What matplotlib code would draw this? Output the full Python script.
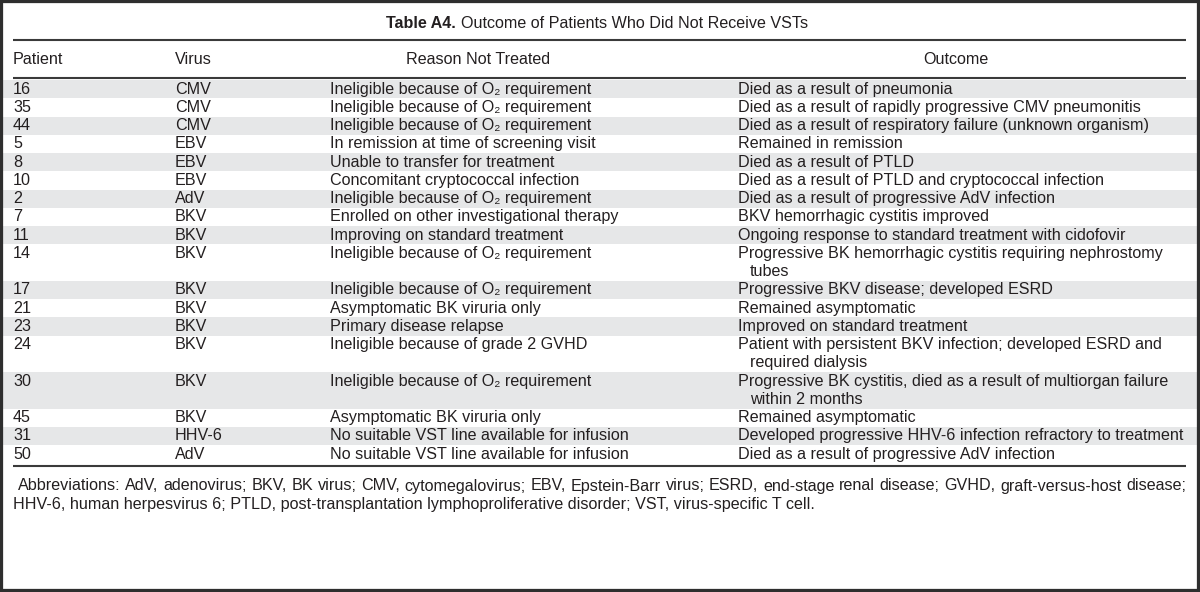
import matplotlib

matplotlib.use("Agg")
import matplotlib.pyplot as plt
from matplotlib.patches import Rectangle

plt.rcParams["font.family"] = ["Liberation Sans", "DejaVu Sans"]

TITLE_BOLD = "Table A4."
TITLE_REST = "Outcome of Patients Who Did Not Receive VSTs"
HEADERS = ["Patient", "Virus", "Reason Not Treated", "Outcome"]

O2 = "Ineligible because of O\u2082 requirement"
patients = ["16", "35", "44", "5", "8", "10", "2", "7", "11", "14",
            "17", "21", "23", "24", "30", "45", "31", "50"]
viruses = ["CMV", "CMV", "CMV", "EBV", "EBV", "EBV", "AdV", "BKV", "BKV", "BKV",
           "BKV", "BKV", "BKV", "BKV", "BKV", "BKV", "HHV-6", "AdV"]
reasons = [O2, O2, O2,
           "In remission at time of screening visit",
           "Unable to transfer for treatment",
           "Concomitant cryptococcal infection",
           O2,
           "Enrolled on other investigational therapy",
           "Improving on standard treatment",
           O2, O2,
           "Asymptomatic BK viruria only",
           "Primary disease relapse",
           "Ineligible because of grade 2 GVHD",
           O2,
           "Asymptomatic BK viruria only",
           "No suitable VST line available for infusion",
           "No suitable VST line available for infusion"]
outcomes = [
    ["Died as a result of pneumonia"],
    ["Died as a result of rapidly progressive CMV pneumonitis"],
    ["Died as a result of respiratory failure (unknown organism)"],
    ["Remained in remission"],
    ["Died as a result of PTLD"],
    ["Died as a result of PTLD and cryptococcal infection"],
    ["Died as a result of progressive AdV infection"],
    ["BKV hemorrhagic cystitis improved"],
    ["Ongoing response to standard treatment with cidofovir"],
    ["Progressive BK hemorrhagic cystitis requiring nephrostomy", "tubes"],
    ["Progressive BKV disease; developed ESRD"],
    ["Remained asymptomatic"],
    ["Improved on standard treatment"],
    ["Patient with persistent BKV infection; developed ESRD and",
     "required dialysis"],
    ["Progressive BK cystitis, died as a result of multiorgan failure",
     "within 2 months"],
    ["Remained asymptomatic"],
    ["Developed progressive HHV-6 infection refractory to treatment"],
    ["Died as a result of progressive AdV infection"],
]
FOOTNOTE = [
    "Abbreviations: AdV, adenovirus; BKV, BK virus; CMV, cytomegalovirus; "
    "EBV, Epstein-Barr virus; ESRD, end-stage renal disease; GVHD, "
    "graft-versus-host disease;",
    "HHV-6, human herpesvirus 6; PTLD, post-transplantation "
    "lymphoproliferative disorder; VST, virus-specific T cell.",
]

INK = "#231f20"
SHADE = "#e6e7e8"
RULE = "#3a3a3a"
FS = 11.6

fig = plt.figure(figsize=(12, 5.92), dpi=100)
ax = fig.add_axes([0, 0, 1, 1])
ax.set_xlim(0, 1200)
ax.set_ylim(592, 0)
ax.axis("off")
renderer = fig.canvas.get_renderer()


def width(txt):
    # axes units are pixels, so the extent width is directly usable
    return txt.get_window_extent(renderer=renderer).width


left, right = 13, 1186
col_x = [13, 175, 330, 738]
indent = 12

# title: bold label + regular text, centred as one line
tb = ax.text(0, 24, TITLE_BOLD, fontsize=FS, fontweight="bold", color=INK,
             va="center")
tr = ax.text(0, 24, TITLE_REST, fontsize=FS, color=INK, va="center")
gap = 5
total = width(tb) + gap + width(tr)
x0 = 597 - total / 2
tb.set_x(x0)
tr.set_x(x0 + width(tb) + gap)

ax.hlines(40, left, right, color=RULE, lw=1.5)
ax.text(col_x[0], 59, HEADERS[0], fontsize=FS, color=INK, va="center")
ax.text(col_x[1], 59, HEADERS[1], fontsize=FS, color=INK, va="center")
ax.text(478, 59, HEADERS[2], fontsize=FS, color=INK, va="center", ha="center")
ax.text(956, 59, HEADERS[3], fontsize=FS, color=INK, va="center", ha="center")
ax.hlines(78, left, right, color=RULE, lw=1.5)

lh = 18.25
y = 80.0
for i, (p, v, r, o) in enumerate(zip(patients, viruses, reasons, outcomes)):
    h = lh * len(o)
    if i % 2 == 0:
        ax.add_patch(Rectangle((3, y), 1194, h, color=SHADE, lw=0, zorder=0))
    yc = y + lh / 2
    ax.text(col_x[0], yc, p, fontsize=FS, color=INK, va="center")
    ax.text(col_x[1], yc, v, fontsize=FS, color=INK, va="center")
    ax.text(col_x[2], yc, r, fontsize=FS, color=INK, va="center")
    for k, line in enumerate(o):
        ax.text(col_x[3] + (indent if k else 0), yc + k * lh, line,
                fontsize=FS, color=INK, va="center")
    y += h

ax.hlines(y + 3, left, right, color=RULE, lw=1.5)

# footnote, first line justified to the rule width
words = FOOTNOTE[0].split(" ")
arts = [ax.text(0, 486, w, fontsize=FS, color=INK, va="center") for w in words]
ws = [width(a) for a in arts]
start, stop = 18, 1186
sp = (stop - start - sum(ws)) / (len(words) - 1)
xx = start
for a, w in zip(arts, ws):
    a.set_x(xx)
    xx += w + sp
ax.text(13, 504, FOOTNOTE[1], fontsize=FS, color=INK, va="center")

# outer frame
fig.patches.append(Rectangle((0, 0), 1, 1, transform=fig.transFigure,
                             fill=False, edgecolor="#2e2e2e", lw=4.5))

fig.savefig("out.png", dpi=100)
